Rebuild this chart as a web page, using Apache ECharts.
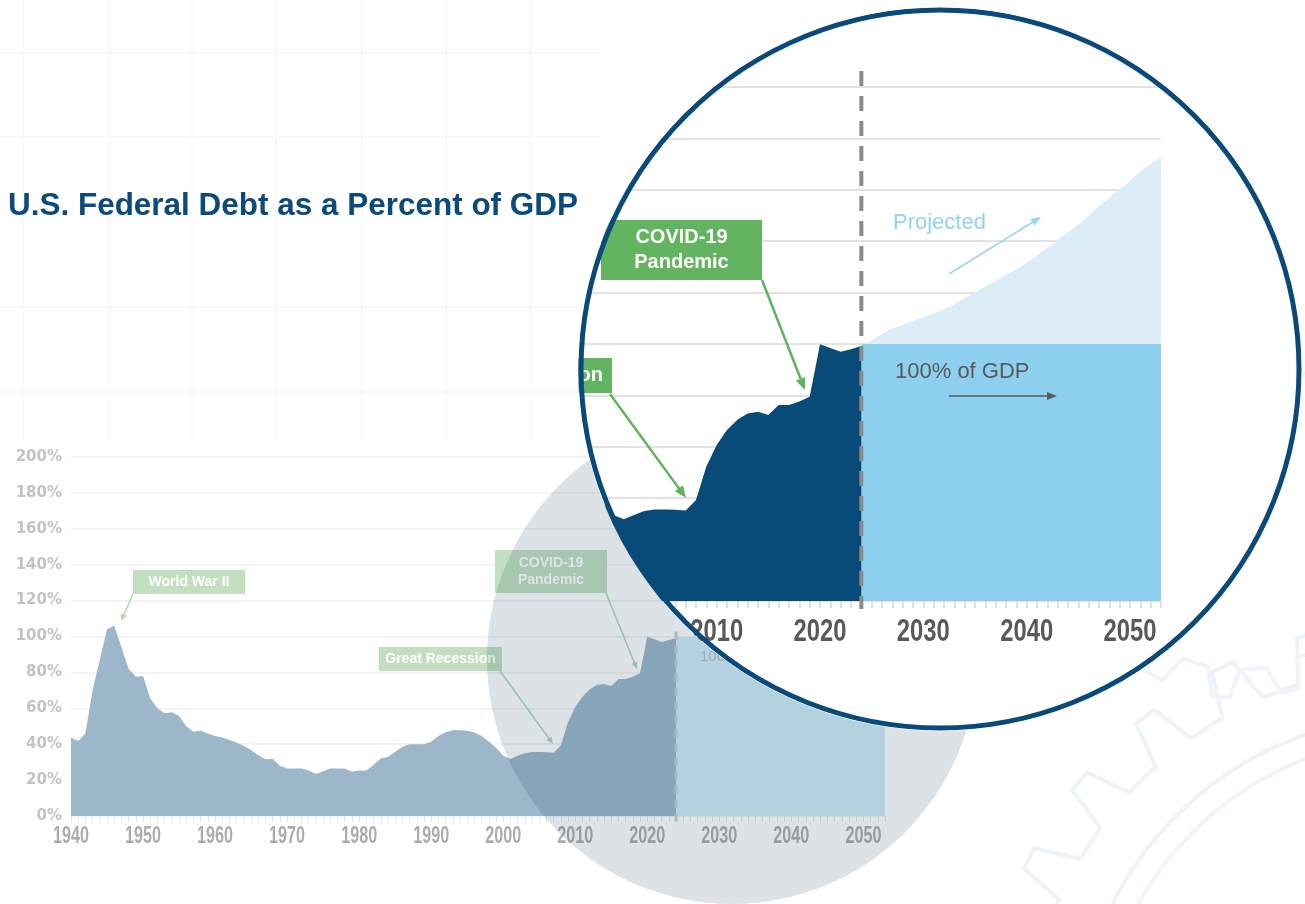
<!DOCTYPE html>
<html><head><meta charset="utf-8">
<script src="https://cdn.jsdelivr.net/npm/echarts@6/dist/echarts.min.js"></script>
<style>
html,body{margin:0;padding:0;background:#fff;overflow:hidden;}
#main,#mag{position:absolute;left:0;top:0;width:1305px;height:904px;}
#mag{clip-path:circle(362px at 940px 369px);}
</style></head><body>
<div id="main"></div><div id="mag"></div>
<script>
// ---------- DATA ----------
const startYear = 1940;
const endYear = 2053;
const lastActualYear = 2024;
// Federal debt held by the public, % of GDP, 1940-2024
const historical = [43.6, 41.8, 46, 70, 87, 104, 106, 94, 82, 77.6,
  78, 65.5, 60, 57.2, 57.8, 55.7, 50, 47, 47.5, 46,
  44.6, 43.8, 42.3, 40.9, 39, 36.8, 33.8, 31.6, 31.9, 28,
  26.5, 26.5, 26.5, 25.3, 23.4, 25, 26.5, 26.5, 26.5, 24.7,
  25.3, 25.3, 28.4, 32, 33, 35.8, 38.6, 40, 40, 40,
  41.4, 44.6, 46.6, 47.8, 47.8, 47.5, 46.5, 44.5, 41.5, 38,
  33.5, 31.8, 33.5, 35, 35.6, 35.6, 35.5, 35.2, 39.3, 52.3,
  60.7, 66.5, 70.5, 73, 73.6, 72.4, 76.3, 76.3, 77.6, 79.5,
  99.9, 98.4, 97, 98, 99.2];
// Projected, 2024-2053
const projected = [99.2, 101.5, 104, 106, 107.5, 109, 110.5, 112, 113.5, 115.5,
  118, 120, 122.5, 124.5, 127, 129, 131.5, 134.5, 137.5, 140.5,
  143.5, 146.5, 150, 153.5, 157, 160, 163.5, 167, 170, 172.6];
const gdpLevel = 100;
const xLabelYears = ['1940','1950','1960','1970','1980','1990','2000','2010','2020','2030','2040','2050'];
const yTickLabels = ['0%','20%','40%','60%','80%','100%','120%','140%','160%','180%','200%'];
const magStartYear = 1990;

const years = [];
for (let y = startYear; y <= endYear; y++) years.push(String(y));
function histSeries(cats){ return cats.map(c => { const y=+c; return y <= lastActualYear ? historical[y-startYear] : '-'; }); }
function projSeries(cats){ return cats.map(c => { const y=+c; return y >= lastActualYear ? projected[y-lastActualYear] : '-'; }); }
function levelSeries(cats){ return cats.map(c => (+c >= lastActualYear ? gdpLevel : '-')); }

// ---------- helpers ----------
const mctx = document.createElement('canvas').getContext('2d');
function fitScale(text, font, targetW){ mctx.font = font; return targetW / mctx.measureText(text).width; }
function arrow(x1,y1,x2,y2,color,w,hl,hw,z){
  const dx=x2-x1, dy=y2-y1, L=Math.hypot(dx,dy), ux=dx/L, uy=dy/L;
  const bx=x2-ux*hl, by=y2-uy*hl, px=-uy, py=ux;
  return [
    {type:'line', z:z, shape:{x1:x1,y1:y1,x2:bx+ux*1,y2:by+uy*1}, style:{stroke:color,lineWidth:w}},
    {type:'polygon', z:z, shape:{points:[[x2,y2],[bx+px*hw/2,by+py*hw/2],[bx-px*hw/2,by-py*hw/2]]}, style:{fill:color}}
  ];
}
function box(x,y,w,h,fill,text,fs,lh,z){
  return [
    {type:'rect', z:z, shape:{x:x,y:y,width:w,height:h}, style:{fill:fill}},
    {type:'text', z:z+1, x:x+w/2, y:y+h/2, style:{text:text, fill:'#fff', font:'bold '+fs+'px "Liberation Sans", Arial, sans-serif', align:'center', verticalAlign:'middle', lineHeight:lh}}
  ];
}
function gear(cx,cy,rIn,rOut,n){
  const pts=[]; const T=2*Math.PI/n;
  for(let i=0;i<n;i++){
    const a=i*T;
    pts.push([cx+rIn*Math.cos(a), cy+rIn*Math.sin(a)]);
    pts.push([cx+rOut*Math.cos(a+0.15*T), cy+rOut*Math.sin(a+0.15*T)]);
    pts.push([cx+rOut*Math.cos(a+0.4*T), cy+rOut*Math.sin(a+0.4*T)]);
    pts.push([cx+rIn*Math.cos(a+0.55*T), cy+rIn*Math.sin(a+0.55*T)]);
  }
  return pts;
}
// condensed year labels placed with the chart's own scale
function yearLabels(chart, cats, font, targetW, color, dy, z){
  const sc = fitScale('2000', font, targetW);
  const out = [];
  xLabelYears.forEach(v => {
    if (cats.indexOf(v) < 0) return;
    const p = chart.convertToPixel({xAxisIndex:0,yAxisIndex:0}, [v, 0]);
    out.push({type:'text', z:z, x:p[0], y:p[1]+dy, scaleX:sc, style:{text:v, fill:color, font:font, align:'center', verticalAlign:'middle'}});
  });
  return out;
}

const sansB = '"Liberation Sans", Arial, sans-serif';

// ---------- MAIN CHART ----------
const main = echarts.init(document.getElementById('main'));
main.setOption({
  backgroundColor:'#fff',
  animation:false,
  grid:{left:71, right:420, top:457, bottom:88},
  xAxis:{type:'category', data:years, boundaryGap:false,
    axisLine:{show:false},
    axisTick:{show:true, interval:0, length:6, lineStyle:{color:'#e3e3e3', width:1}},
    axisLabel:{show:false},
    splitLine:{show:false}},
  yAxis:{type:'value', min:0, max:200, interval:20,
    axisLine:{show:false}, axisTick:{show:false},
    axisLabel:{formatter:(v)=>yTickLabels[Math.round(v/20)], color:'#c3c3c3', fontFamily:'"DejaVu Sans", sans-serif', fontWeight:'bold', fontSize:15, margin:9},
    splitLine:{lineStyle:{color:'#f0f0f0', width:1.5}}},
  series:[
    {type:'line', data:histSeries(years), symbol:'none', lineStyle:{width:0}, areaStyle:{color:'#9cb7ca', opacity:1}, z:3},
    {type:'line', data:levelSeries(years), symbol:'none', lineStyle:{width:0}, areaStyle:{color:'#d0ebf8', opacity:1}, z:3}
  ]
});
const mTop = main.convertToPixel({xAxisIndex:0,yAxisIndex:0}, [String(lastActualYear), gdpLevel]);
const mBot = main.convertToPixel({xAxisIndex:0,yAxisIndex:0}, [String(lastActualYear), 0]);

let mainG = [];
// faint background grid
[23,109,192,276,362,446,531].forEach(x=>mainG.push({type:'line', z:-10, shape:{x1:x,y1:0,x2:x,y2:440}, style:{stroke:'#f7f9fa', lineWidth:2}}));
[53,137,307,392].forEach(y=>mainG.push({type:'line', z:-10, shape:{x1:0,y1:y,x2:600,y2:y}, style:{stroke:'#f7f9fa', lineWidth:2}}));
// faint gear decoration
mainG.push({type:'polygon', z:-10, shape:{points:gear(1420,1060,395,440,30)}, style:{fill:'none', stroke:'#eef3f8', lineWidth:4}});
mainG.push({type:'circle', z:-10, shape:{cx:1420,cy:1060,r:345}, style:{fill:'none', stroke:'#eef3f8', lineWidth:4}});
mainG.push({type:'circle', z:-10, shape:{cx:1420,cy:1060,r:322}, style:{fill:'none', stroke:'#f1f5f9', lineWidth:4}});
mainG.push({type:'polygon', z:-10, shape:{points:gear(1240,520,150,178,16)}, style:{fill:'none', stroke:'#f1f5f9', lineWidth:4}});
// title
const titleText = 'U.S. Federal Debt as a Percent of GDP';
const titleFont = 'bold 32px ' + sansB;
mainG.push({type:'text', z:20, x:8, y:206, scaleX:fitScale(titleText, titleFont, 570), style:{text:titleText, fill:'#0b4a7b', font:titleFont, verticalAlign:'middle'}});
// x labels
mainG = mainG.concat(yearLabels(main, years, 'bold 23px ' + sansB, 36, '#adadad', 21, 20));
// dashed projection divider
mainG.push({type:'line', z:20, shape:{x1:mTop[0],y1:mTop[1]-5,x2:mBot[0],y2:mBot[1]+7}, style:{stroke:'#cdcdcd', lineWidth:3, lineDash:[8,6]}});
// annotations (faded)
const fg = '#c2e0c0', fa = '#afd9ad';
mainG = mainG.concat(box(133,570,112,24,fg,'World War II',14,16,30));
mainG = mainG.concat(arrow(133,594,121,621,fa,1.5,7,6,30));
mainG = mainG.concat(box(379,647,123,24,fg,'Great Recession',14,16,30));
mainG = mainG.concat(arrow(500,671,553,744,fa,1.5,7,6,30));
mainG = mainG.concat(box(495,550,112,43,fg,'COVID-19\nPandemic',14,17,30));
mainG = mainG.concat(arrow(606,593,637,669,fa,1.5,7,6,30));
mainG.push({type:'text', z:30, x:700, y:657, style:{text:'100% of GDP', fill:'#bdbdbd', font:'15px ' + sansB, verticalAlign:'middle'}});
// lens
mainG.push({type:'circle', z:100, shape:{cx:732,cy:659,r:245}, style:{fill:'rgba(20,60,90,0.15)'}});
main.setOption({graphic:{elements:mainG}});

// ---------- MAGNIFIED CHART ----------
const magYears = years.filter(y => +y >= magStartYear);
const mag = echarts.init(document.getElementById('mag'));
mag.setOption({
  backgroundColor:'#fff',
  animation:false,
  grid:{left:510, right:144, top:87, bottom:303},
  xAxis:{type:'category', data:magYears, boundaryGap:false,
    axisLine:{show:false},
    axisTick:{show:true, interval:0, length:7, lineStyle:{color:'#d6d6d6', width:1.5}},
    axisLabel:{show:false},
    splitLine:{show:false}},
  yAxis:{type:'value', min:0, max:200, interval:20,
    axisLine:{show:false}, axisTick:{show:false}, axisLabel:{show:false},
    splitLine:{lineStyle:{color:'#e2e2e2', width:2}}},
  series:[
    {type:'line', data:projSeries(magYears), symbol:'none', lineStyle:{width:0}, areaStyle:{color:'#dcedf7', opacity:1}, z:3},
    {type:'line', data:levelSeries(magYears), symbol:'none', lineStyle:{width:0}, areaStyle:{color:'#8dcfee', opacity:1}, z:4},
    {type:'line', data:histSeries(magYears), symbol:'none', lineStyle:{width:0}, areaStyle:{color:'#084a78', opacity:1}, z:5}
  ]
});
const gTop = mag.convertToPixel({xAxisIndex:0,yAxisIndex:0}, [String(lastActualYear), 200]);
const gBot = mag.convertToPixel({xAxisIndex:0,yAxisIndex:0}, [String(lastActualYear), 0]);
let magG = [];
magG = magG.concat(yearLabels(mag, magYears, 'bold 32px ' + sansB, 53, '#58595b', 31, 20));
magG.push({type:'line', z:20, shape:{x1:gTop[0],y1:gTop[1]-16,x2:gBot[0],y2:gBot[1]+8}, style:{stroke:'#8a8a8a', lineWidth:4, lineDash:[15,10]}});
const green = '#62b460';
magG = magG.concat(box(601,220,161,60,green,'COVID-19\nPandemic',20,25,30));
magG = magG.concat(arrow(762,280,805,390,'#5fb35d',2.5,12,10,30));
magG = magG.concat(box(436,358,176,35,green,'Great Recession',20,24,30));
magG = magG.concat(arrow(610,394,686,498,'#5fb35d',2.5,12,10,30));
magG.push({type:'text', z:30, x:893, y:223, style:{text:'Projected', fill:'#93d3ef', font:'22px ' + sansB, verticalAlign:'middle'}});
magG = magG.concat(arrow(949,274,1041,217,'#9bd5ef',1.5,10,8,30));
magG.push({type:'text', z:30, x:895, y:372, style:{text:'100% of GDP', fill:'#595959', font:'22px ' + sansB, verticalAlign:'middle'}});
magG = magG.concat(arrow(949,396,1057,396,'#595959',1.5,10,8,30));
magG.push({type:'circle', z:100, shape:{cx:940,cy:369,r:359}, style:{fill:'none', stroke:'#0a4a7a', lineWidth:5}});
mag.setOption({graphic:{elements:magG}});
</script>
</body></html>
